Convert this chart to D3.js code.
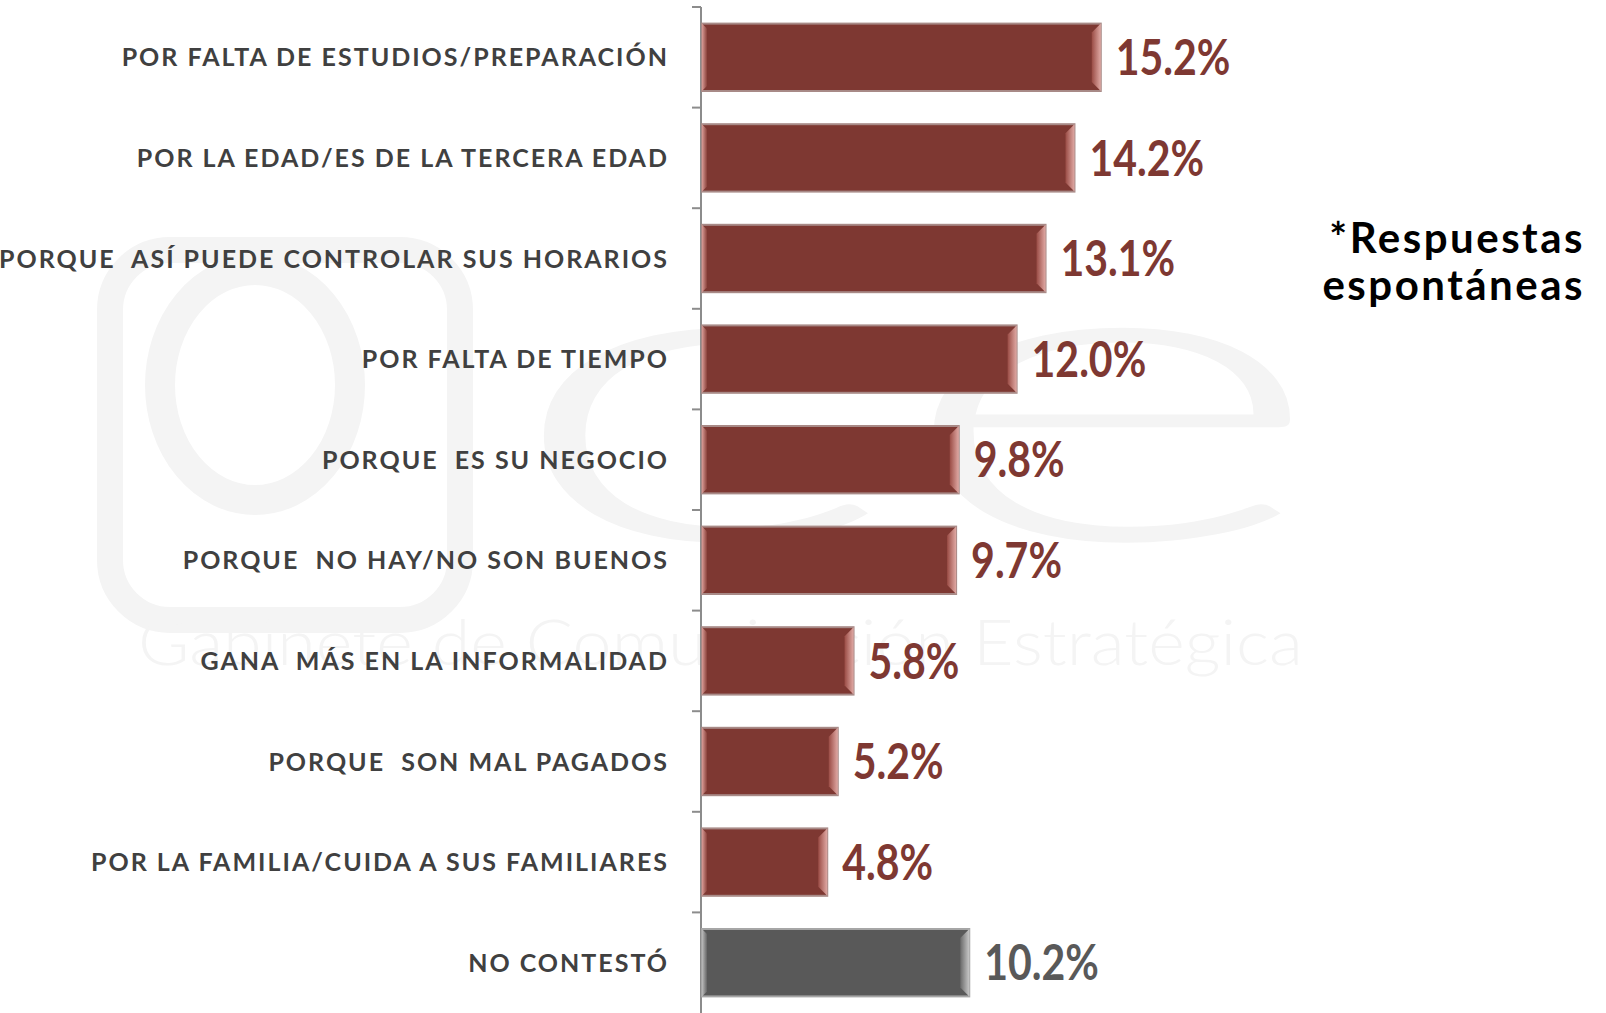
<!DOCTYPE html>
<html>
<head>
<meta charset="utf-8">
<script src="https://cdn.jsdelivr.net/npm/d3@7"></script>
<style>
  html, body { margin: 0; padding: 0; background: #ffffff; }
  svg { display: block; }
</style>
</head>
<body>
<script>
// ---- data ----
const categories = [
  "POR FALTA DE ESTUDIOS/PREPARACIÓN",
  "POR LA EDAD/ES DE LA TERCERA EDAD",
  "PORQUE  ASÍ PUEDE CONTROLAR SUS HORARIOS",
  "POR FALTA DE TIEMPO",
  "PORQUE  ES SU NEGOCIO",
  "PORQUE  NO HAY/NO SON BUENOS",
  "GANA  MÁS EN LA INFORMALIDAD",
  "PORQUE  SON MAL PAGADOS",
  "POR LA FAMILIA/CUIDA A SUS FAMILIARES",
  "NO CONTESTÓ"
];
const values = [15.2, 14.2, 13.1, 12.0, 9.8, 9.7, 5.8, 5.2, 4.8, 10.2];
const valueLabels = ["15.2%", "14.2%", "13.1%", "12.0%", "9.8%", "9.7%", "5.8%", "5.2%", "4.8%", "10.2%"];
const noteLines = ["*Respuestas", "espontáneas"];
const watermarkText = "Gabinete de  Comunicación  Estratégica";

// ---- layout ----
const W = 1606, H = 1013;
const axisX = 701;
const svg = d3.select("body").append("svg").attr("width", W).attr("height", H);

const defs = svg.append("defs");
function bevel(id, c1, c2) {
  const g = defs.append("linearGradient").attr("id", id).attr("x1", 0).attr("x2", 1).attr("y1", 0).attr("y2", 0);
  g.append("stop").attr("offset", "0%").attr("stop-color", c1);
  g.append("stop").attr("offset", "100%").attr("stop-color", c2);
}
bevel("redR", "#9a4c45", "#e0a9a4");
bevel("redL", "#d99c97", "#8a423b");
bevel("grayR", "#6a6a6a", "#c8c8c8");
bevel("grayL", "#bdbdbd", "#666666");

// ---- watermark ----
const wmColor = "#f4f4f4";
const wm = svg.append("g").attr("fill", "none").attr("stroke", wmColor);
wm.append("rect").attr("x", 110).attr("y", 250).attr("width", 350).attr("height", 370).attr("rx", 60)
  .attr("stroke-width", 26);
wm.append("ellipse").attr("cx", 255).attr("cy", 385).attr("rx", 95).attr("ry", 115).attr("stroke-width", 30);
wm.append("text").attr("x", 500).attr("y", 540).attr("fill", wmColor).attr("stroke", "none")
  .attr("font-family", "Lato, sans-serif").attr("font-size", 420).attr("font-weight", 300)
  .attr("textLength", 830).attr("lengthAdjust", "spacingAndGlyphs").text("ce");
svg.append("text").attr("x", 138).attr("y", 665).attr("fill", wmColor)
  .attr("font-family", "Lato, sans-serif").attr("font-size", 64).attr("font-weight", 300)
  .attr("textLength", 1165).attr("lengthAdjust", "spacingAndGlyphs").text(watermarkText);

// ---- scales ----
const y = d3.scaleBand().domain(categories).range([7, 1013]).paddingInner(0.33).paddingOuter(0.165);
const x = d3.scaleLinear().domain([0, 16]).range([axisX, axisX + 26.3 * 16]);

// ---- axis ----
const axisG = svg.append("g").attr("stroke", "#8c8c8c").attr("stroke-width", 2);
axisG.append("line").attr("x1", axisX).attr("x2", axisX).attr("y1", 7).attr("y2", H);
const step = y.step();
d3.range(categories.length).forEach(i => {
  const ty = 7 + i * step;
  axisG.append("line").attr("x1", axisX - 9).attr("x2", axisX).attr("y1", ty).attr("y2", ty);
});

// ---- bars ----
const bars = svg.append("g").selectAll("g").data(categories).join("g");
bars.each(function(c, i) {
  const g = d3.select(this);
  const isGray = i === categories.length - 1;
  const x0 = x(0) + 1, x1 = x(values[i]);
  const y0 = y(c), h = y.bandwidth();
  g.append("rect").attr("x", x0).attr("y", y0).attr("width", x1 - x0).attr("height", h)
    .attr("fill", isGray ? "#595959" : "#7e3832")
    .attr("stroke", isGray ? "#a6a6a6" : "#a88a87").attr("stroke-width", 2);
  const bw = 9, lw = 5;
  g.append("path").attr("d", `M${x1},${y0} L${x1},${y0 + h} L${x1 - bw},${y0 + h - bw} L${x1 - bw},${y0 + bw} Z`)
    .attr("fill", isGray ? "url(#grayR)" : "url(#redR)");
  g.append("path").attr("d", `M${x0},${y0} L${x0 + lw},${y0 + lw} L${x0 + lw},${y0 + h - lw} L${x0},${y0 + h} Z`)
    .attr("fill", isGray ? "url(#grayL)" : "url(#redL)");
});

// ---- category labels ----
svg.append("g").selectAll("text").data(categories).join("text")
  .attr("x", 669).attr("y", d => y(d) + y.bandwidth() / 2)
  .attr("dy", "0.36em").attr("text-anchor", "end")
  .attr("font-family", "Lato, sans-serif").attr("font-weight", 700).attr("font-size", 25)
  .attr("letter-spacing", 2)
  .attr("fill", "#404040").style("white-space", "pre")
  .text(d => d);

// ---- value labels (slightly tall, like the original face) ----
svg.append("g").selectAll("text").data(categories).join("text")
  .attr("transform", (d, i) => `translate(${x(values[i]) + 15},${y(d) + y.bandwidth() / 2}) scale(1,1.2)`)
  .attr("dy", "0.36em")
  .attr("font-family", "Lato, sans-serif").attr("font-weight", 700).attr("font-size", 41)
  .attr("fill", (d, i) => i === categories.length - 1 ? "#595959" : "#7e3832")
  .text((d, i) => valueLabels[i]);

// ---- note ----
svg.append("g").selectAll("text").data(noteLines).join("text")
  .attr("x", 1585).attr("y", (d, i) => 253 + i * 47)
  .attr("text-anchor", "end")
  .attr("font-family", "Lato, sans-serif").attr("font-weight", 700).attr("font-size", 42)
  .attr("letter-spacing", 2.5)
  .attr("fill", "#000000").text(d => d);
</script>
</body>
</html>
